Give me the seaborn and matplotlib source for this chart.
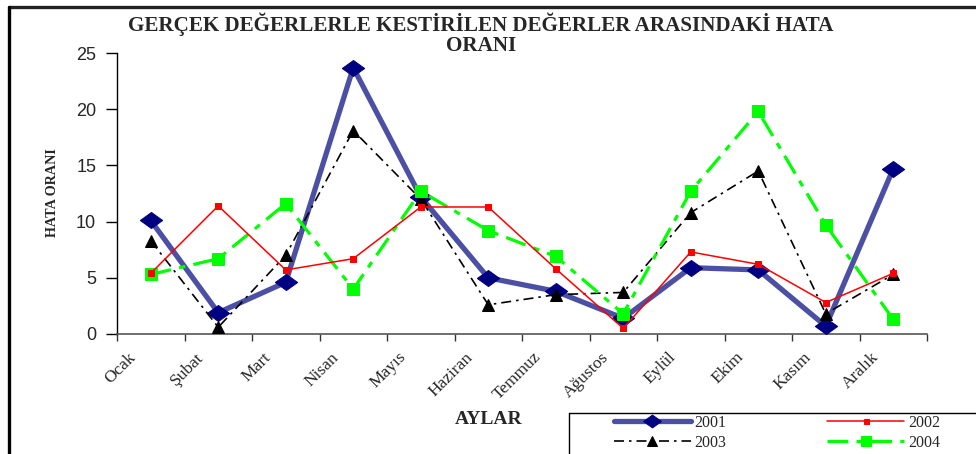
import matplotlib
matplotlib.use("Agg")
import matplotlib.pyplot as plt
import matplotlib.lines as mlines
import seaborn as sns
import pandas as pd

# Monthly error rates between actual and estimated values
months = ["Ocak", "Şubat", "Mart", "Nisan", "Mayıs", "Haziran",
          "Temmuz", "Ağustos", "Eylül", "Ekim", "Kasım", "Aralık"]
err_2001 = [10.1, 1.9, 4.6, 23.7, 12.2, 5.0, 3.8, 1.4, 5.9, 5.7, 0.7, 14.7]
err_2002 = [5.4, 11.4, 5.7, 6.7, 11.3, 11.3, 5.8, 0.5, 7.3, 6.2, 2.8, 5.4]
err_2003 = [8.3, 0.6, 7.0, 18.1, 12.0, 2.6, 3.5, 3.7, 10.8, 14.5, 1.8, 5.3]
err_2004 = [5.3, 6.7, 11.6, 4.0, 12.7, 9.2, 6.9, 1.8, 12.7, 19.8, 9.7, 1.3]
y_ticks = [0, 5, 10, 15, 20, 25]

sns.set_style("white")
serif = ["Liberation Serif", "DejaVu Serif"]
sans = ["Liberation Sans", "DejaVu Sans"]

W, H = 976, 454
fig = plt.figure(figsize=(W / 100, H / 100), dpi=100)
ax = fig.add_axes([117 / W, 1 - 334 / H, (927 - 117) / W, (334 - 53) / H])

# wide diamond marker
diamond = [(-1, 0), (0, 0.72), (1, 0), (0, -0.72), (-1, 0)]

styles = {
    "2001": dict(color="#4C50A4", lw=3.8, marker=diamond, markersize=16,
                 markerfacecolor="#000080", markeredgecolor="#000080", zorder=3),
    "2002": dict(color="#FF0000", lw=1.1, marker="s", markersize=4.5,
                 markerfacecolor="#FF0000", markeredgecolor="#FF0000", zorder=5),
    "2003": dict(color="black", lw=1.2, marker="^", markersize=8.5,
                 markerfacecolor="black", markeredgecolor="black",
                 dashes=(6, 3, 1.5, 3), zorder=4),
    "2004": dict(color="#00FF00", lw=2.3, marker="s", markersize=9,
                 markerfacecolor="#00FF00", markeredgecolor="#00FF00",
                 dashes=(6.5, 2.6, 2, 2.6), zorder=4),
}
series = {"2001": err_2001, "2002": err_2002, "2003": err_2003, "2004": err_2004}

handles = {}
for year, vals in series.items():
    df = pd.DataFrame({"Ay": months, "Oran": vals})
    sns.lineplot(data=df, x="Ay", y="Oran", ax=ax, sort=False,
                 errorbar=None, **styles[year])
    handles[year] = ax.lines[-1]

ax.set_xlim(-0.5, len(months) - 0.5)
ax.set_ylim(0, 25)
ax.set_yticks(y_ticks)
ax.set_yticklabels([str(t) for t in y_ticks], family=sans, fontsize=13)

# slanted month labels end a little left of each category centre;
# tick marks sit on the category boundaries
label_offset = -0.34
ax.set_xticks([i + label_offset for i in range(len(months))])
ax.set_xticklabels(months, rotation=45, ha="right", va="top",
                   rotation_mode="anchor", family=serif, fontsize=12.5)
ax.set_xticks([i - 0.5 for i in range(len(months) + 1)], minor=True)
ax.tick_params(axis="x", which="major", length=0, pad=11)
ax.tick_params(axis="x", which="minor", length=5, width=1, color="#333333",
               direction="out", bottom=True)
ax.tick_params(axis="y", length=8, width=1, color="black", direction="out",
               left=True, pad=7)

for s in ["top", "right"]:
    ax.spines[s].set_visible(False)
ax.spines["left"].set_color("black")
ax.spines["bottom"].set_color("#555555")
ax.spines["left"].set_linewidth(1)
ax.spines["bottom"].set_linewidth(1.2)
ax.set_xlabel("")
ax.set_ylabel("")

fig.text(52 / W, 1 - 193 / H, "HATA ORANI", rotation=90, ha="center", va="center",
         family=serif, fontweight="bold", fontsize=10.2)
fig.text(489 / W, 1 - 419 / H, "AYLAR", ha="center", va="center",
         family=serif, fontweight="bold", fontsize=14)
fig.text(481 / W, 1 - 24 / H, "GERÇEK DEĞERLERLE KESTİRİLEN DEĞERLER ARASINDAKİ HATA",
         ha="center", va="center", family=serif, fontweight="bold", fontsize=15.2)
fig.text(481 / W, 1 - 46 / H, "ORANI", ha="center", va="center",
         family=serif, fontweight="bold", fontsize=15.2)

# chart frame (top and left edges)
fig.add_artist(mlines.Line2D([9 / W, 1], [1 - 6.5 / H, 1 - 6.5 / H],
                             transform=fig.transFigure, color="#222222", lw=2.4))
fig.add_artist(mlines.Line2D([9 / W, 9 / W], [0, 1 - 6.5 / H],
                             transform=fig.transFigure, color="black", lw=2.4))

# legend frame
fig.add_artist(mlines.Line2D([569 / W, 1], [1 - 413 / H, 1 - 413 / H],
                             transform=fig.transFigure, color="black", lw=1))
fig.add_artist(mlines.Line2D([569 / W, 569 / W], [0, 1 - 413 / H],
                             transform=fig.transFigure, color="black", lw=1))

order = ["2001", "2003", "2002", "2004"]
fig.legend([handles[k] for k in order], order, ncol=2, loc="upper left",
           bbox_to_anchor=(614 / W, 1 - 415 / H), frameon=False,
           prop={"family": serif, "size": 11.5}, handlelength=4.8,
           handletextpad=0.25, columnspacing=6.3, labelspacing=0.25,
           borderpad=0, borderaxespad=0, markerscale=0.8)

fig.savefig("out.png", dpi=100)
